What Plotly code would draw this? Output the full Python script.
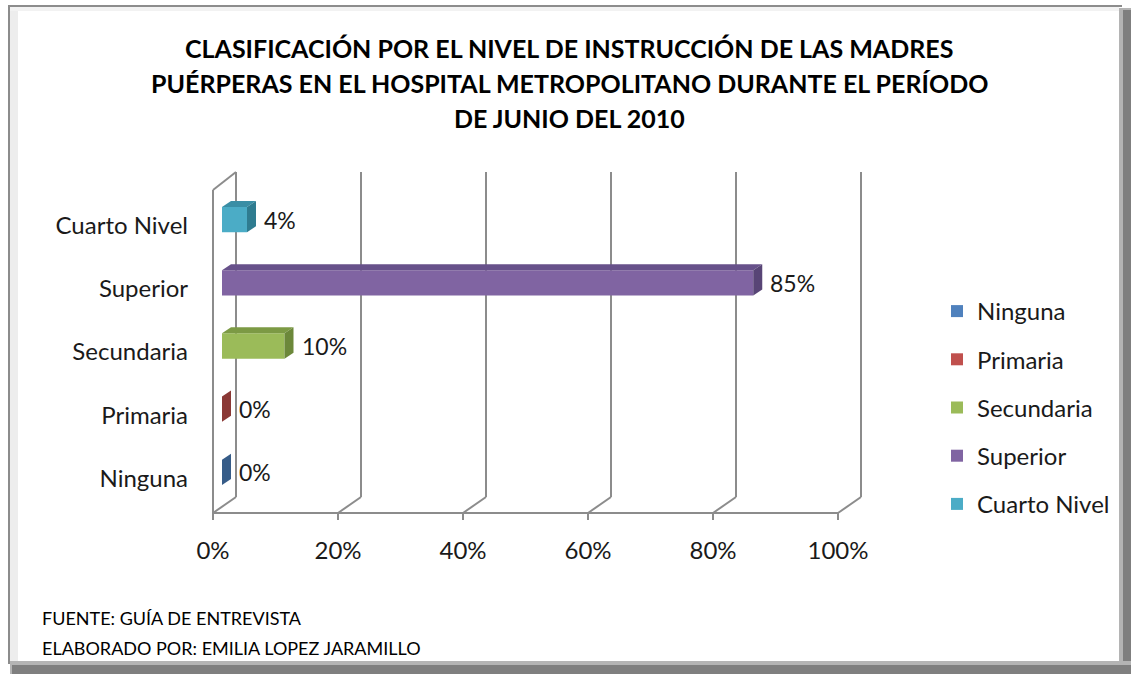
import plotly.graph_objects as go

categories = ["Ninguna", "Primaria", "Secundaria", "Superior", "Cuarto Nivel"]
values = [0, 0, 10, 85, 4]
value_labels = ["0%", "0%", "10%", "85%", "4%"]
x_ticks = [0, 20, 40, 60, 80, 100]
x_tick_labels = ["0%", "20%", "40%", "60%", "80%", "100%"]

front_colors = ["#4F81BD", "#C0504D", "#9BBB59", "#8064A2", "#4BACC6"]
top_colors = ["#3F6898", "#9A403E", "#7C9A44", "#67518A", "#3A8EA5"]
side_colors = ["#365C88", "#8A3835", "#6C883A", "#584576", "#2F7C90"]

FONT = "Lato"
W, H = 1131, 674
L, R, T, B = 200, 261, 188, 170
PW = W - L - R
PH = H - T - B
SCALE = 6.25  # pixels per percentage point
X_RANGE = [-(222 - L) / SCALE, -(222 - L) / SCALE + PW / SCALE]
BAR_W = 0.4


def px(x):
    return (x - L) / PW


def py(y):
    return (H - B - y) / PH


fig = go.Figure()
for i, (c, v) in enumerate(zip(categories, values)):
    fig.add_trace(go.Bar(
        y=[i], x=[v], orientation="h", width=BAR_W, name=c,
        marker=dict(color=front_colors[i], line=dict(width=0)),
        legendgroup=c, hoverinfo="x+name",
    ))

shapes = []
grid = dict(color="#8C8C8C", width=2)
FRONT_DX = -9
BACK_DX = 14
# back wall gridlines and floor diagonals
for t in x_ticks:
    shapes.append(dict(type="line", xref="x", xsizemode="pixel", xanchor=t,
                       yref="paper", ysizemode="pixel", yanchor=0,
                       x0=BACK_DX, x1=BACK_DX, y0=7, y1=332, line=grid, layer="below"))
    shapes.append(dict(type="line", xref="x", xsizemode="pixel", xanchor=t,
                       yref="paper", ysizemode="pixel", yanchor=0,
                       x0=FRONT_DX, x1=BACK_DX, y0=-9, y1=7, line=grid, layer="below"))
    shapes.append(dict(type="line", xref="x", xsizemode="pixel", xanchor=t,
                       yref="paper", ysizemode="pixel", yanchor=0,
                       x0=FRONT_DX, x1=FRONT_DX, y0=-9, y1=-16, line=grid, layer="below"))
# front axis line
shapes.append(dict(type="line", xref="x", yref="paper", ysizemode="pixel", yanchor=0,
                   x0=x_ticks[0] + FRONT_DX / SCALE, x1=x_ticks[-1] + FRONT_DX / SCALE,
                   y0=-9, y1=-9, line=grid, layer="below"))
# left wall
shapes.append(dict(type="line", xref="x", xsizemode="pixel", xanchor=x_ticks[0],
                   yref="paper", ysizemode="pixel", yanchor=0,
                   x0=FRONT_DX, x1=FRONT_DX, y0=-9, y1=314, line=grid, layer="below"))
shapes.append(dict(type="line", xref="x", xsizemode="pixel", xanchor=x_ticks[0],
                   yref="paper", ysizemode="pixel", yanchor=0,
                   x0=FRONT_DX, x1=BACK_DX, y0=314, y1=332, line=grid, layer="below"))

# 3D faces of bars
half = BAR_W / 2 * PH / 5
DX, DY = 9, 6
dx_data = DX / SCALE
for i, v in enumerate(values):
    shapes.append(dict(
        type="path", xref="x", yref="y", ysizemode="pixel", yanchor=i,
        path=f"M 0,{half} L {v},{half} L {v + dx_data},{half + DY} L {dx_data},{half + DY} Z",
        fillcolor=top_colors[i], line=dict(width=0), layer="above"))
    shapes.append(dict(
        type="path", xref="x", xsizemode="pixel", xanchor=v,
        yref="y", ysizemode="pixel", yanchor=i,
        path=f"M 0,{half} L {DX},{half + DY} L {DX},{-half + DY} L 0,{-half} Z",
        fillcolor=side_colors[i], line=dict(width=0), layer="above"))

# outer frame
shapes += [
    dict(type="rect", xref="paper", yref="paper", x0=px(1119), x1=px(1131), y0=py(674), y1=py(8),
         fillcolor="#B4B4B4", line=dict(width=0)),
    dict(type="rect", xref="paper", yref="paper", x0=px(1123), x1=px(1131), y0=py(674), y1=py(10),
         fillcolor="#7F7F7F", line=dict(width=0)),
    dict(type="rect", xref="paper", yref="paper", x0=px(10), x1=px(1131), y0=py(674), y1=py(661),
         fillcolor="#B4B4B4", line=dict(width=0)),
    dict(type="rect", xref="paper", yref="paper", x0=px(12), x1=px(1131), y0=py(674), y1=py(665),
         fillcolor="#7F7F7F", line=dict(width=0)),
    dict(type="rect", xref="paper", yref="paper", x0=px(10), x1=px(18), y0=py(661), y1=py(7),
         fillcolor="#EDEDED", line=dict(width=0), layer="below"),
    dict(type="rect", xref="paper", yref="paper", x0=px(10), x1=px(1119), y0=py(11), y1=py(7),
         fillcolor="#F2F2F2", line=dict(width=0), layer="below"),
    dict(type="line", xref="paper", yref="paper", x0=px(8), x1=px(1122), y0=py(6), y1=py(6),
         line=dict(color="#8C8C8C", width=2)),
    dict(type="line", xref="paper", yref="paper", x0=px(9), x1=px(9), y0=py(6), y1=py(664),
         line=dict(color="#8C8C8C", width=2)),
]

annotations = []
for i, (v, lab) in enumerate(zip(values, value_labels)):
    annotations.append(dict(x=v, y=i, xref="x", yref="y", text=lab, showarrow=False,
                            xanchor="left", yanchor="middle", xshift=15, yshift=0,
                            font=dict(family=FONT, size=23, color="#1A1A1A")))

title_lines = [
    "CLASIFICACIÓN POR EL NIVEL DE INSTRUCCIÓN DE LAS MADRES",
    "PUÉRPERAS EN EL HOSPITAL METROPOLITANO DURANTE EL PERÍODO",
    "DE JUNIO DEL 2010",
]
for k, line in enumerate(title_lines):
    annotations.append(dict(x=px(569), y=py(48 + k * 35), xref="paper", yref="paper",
                            text=f"<b>{line}</b>", showarrow=False, xanchor="center", yanchor="middle",
                            font=dict(family=FONT, size=25, color="#000000")))

footer = ["FUENTE: GUÍA DE ENTREVISTA", "ELABORADO POR: EMILIA LOPEZ JARAMILLO"]
for k, line in enumerate(footer):
    annotations.append(dict(x=px(40), y=py(618 + k * 30), xref="paper", yref="paper",
                            text=line, showarrow=False, xanchor="left", yanchor="middle",
                            font=dict(family=FONT, size=18, color="#000000")))

fig.update_layout(
    width=W, height=H,
    margin=dict(l=L, r=R, t=T, b=B),
    paper_bgcolor="white", plot_bgcolor="white",
    barmode="overlay",
    showlegend=True,
    legend=dict(x=px(937), y=py(289), xanchor="left", yanchor="top",
                font=dict(family=FONT, size=24, color="#1A1A1A"),
                traceorder="grouped", tracegroupgap=14, itemwidth=30,
                bgcolor="rgba(0,0,0,0)"),
    xaxis=dict(range=X_RANGE, tickvals=x_ticks, ticktext=x_tick_labels,
               showgrid=False, zeroline=False, showline=False, ticks="",
               ticklabelshift=-9, ticklabelstandoff=30,
               tickfont=dict(family=FONT, size=24, color="#1A1A1A"), fixedrange=True),
    yaxis=dict(range=[-0.5, 4.5], tickvals=list(range(len(categories))), ticktext=categories,
               showgrid=False, zeroline=False, showline=False, ticks="",
               ticklabelshift=6, ticklabelstandoff=11,
               tickfont=dict(family=FONT, size=24, color="#1A1A1A"), fixedrange=True),
    shapes=shapes,
    annotations=annotations,
    font=dict(family=FONT),
)

fig.write_html("out.html", config={"displayModeBar": False},
               post_script="document.body.style.margin='0';document.body.style.overflow='hidden';")
